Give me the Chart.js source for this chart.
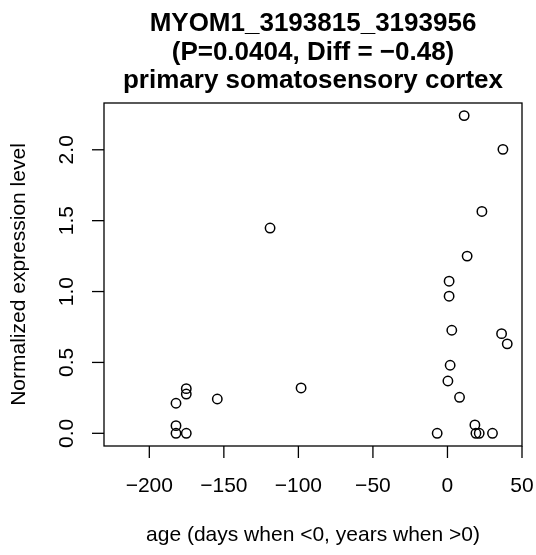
<!DOCTYPE html>
<html>
<head>
<meta charset="utf-8">
<script src="https://cdn.jsdelivr.net/npm/chart.js@4/dist/chart.umd.min.js"></script>
<style>
  html, body { margin: 0; padding: 0; background: #fff; }
  #wrap { position: relative; width: 536px; height: 555px; }
</style>
</head>
<body>
<div id="wrap"><canvas id="chart" width="536" height="555"></canvas></div>
<script>
// age (days when <0, years when >0) and normalized expression
const ages = [
  -119.0, -175.2, -175.2, -182.1, -154.4, -98.2, -182.1, -182.1, -175.2,
  11.2, 37.2, 23.1, 13.2, 1.1, 1.1, 2.9, 36.3, 40.1, 1.8, 0.3, 8.1,
  18.4, 19.1, 21.3, 30.2, -6.9
];
const expression = [
  1.448, 0.315, 0.277, 0.212, 0.242, 0.320, 0.054, 0.0, 0.0,
  2.241, 2.003, 1.565, 1.250, 1.073, 0.967, 0.727, 0.703, 0.631, 0.480, 0.369, 0.254,
  0.059, 0.0, 0.0, 0.0, 0.0
];
const xTicks = [-200, -150, -100, -50, 0, 50];
const xTickLabels = ['\u2212200', '\u2212150', '\u2212100', '\u221250', '0', '50'];
const yTicks = [0, 0.5, 1, 1.5, 2];
const yTickLabels = ['0.0', '0.5', '1.0', '1.5', '2.0'];
const titleLines = [
  'MYOM1_3193815_3193956',
  '(P=0.0404, Diff = \u22120.48)',
  'primary somatosensory cortex'
];
const xTitle = 'age (days when <0, years when >0)';
const yTitle = 'Normalized expression level';

const FONT = '"Liberation Sans", Arial, Helvetica, sans-serif';

// draws R-style box, ticks, labels and titles using the chart's scales
const baseGraphics = {
  id: 'baseGraphics',
  afterDraw(chart) {
    const ctx = chart.ctx;
    const area = chart.chartArea;
    const xs = chart.scales.x;
    const ys = chart.scales.y;
    const tick = 12;
    ctx.save();
    ctx.strokeStyle = '#000';
    ctx.fillStyle = '#000';
    ctx.lineWidth = 1.3;

    ctx.strokeRect(area.left, area.top, area.right - area.left, area.bottom - area.top);

    // x axis
    ctx.font = '21px ' + FONT;
    ctx.textAlign = 'center';
    ctx.textBaseline = 'alphabetic';
    xTicks.forEach((v, i) => {
      const px = xs.getPixelForValue(v);
      ctx.beginPath();
      ctx.moveTo(px, area.bottom);
      ctx.lineTo(px, area.bottom + tick);
      ctx.stroke();
      ctx.fillText(xTickLabels[i], px, 492);
    });

    // y axis, labels rotated like R's las=0
    yTicks.forEach((v, i) => {
      const py = ys.getPixelForValue(v);
      ctx.beginPath();
      ctx.moveTo(area.left, py);
      ctx.lineTo(area.left - tick, py);
      ctx.stroke();
      ctx.save();
      ctx.translate(73, py);
      ctx.rotate(-Math.PI / 2);
      ctx.fillText(yTickLabels[i], 0, 0);
      ctx.restore();
    });

    ctx.fillText(xTitle, (area.left + area.right) / 2, 541);
    ctx.save();
    ctx.translate(25, (area.top + area.bottom) / 2);
    ctx.rotate(-Math.PI / 2);
    ctx.fillText(yTitle, 0, 0);
    ctx.restore();

    ctx.font = 'bold 26px ' + FONT;
    titleLines.forEach((t, i) => {
      ctx.fillText(t, (area.left + area.right) / 2, 31 + i * 28.5);
    });
    ctx.restore();
  }
};

new Chart(document.getElementById('chart'), {
  type: 'scatter',
  data: {
    datasets: [{
      data: ages.map((a, i) => ({ x: a, y: expression[i] })),
      pointStyle: 'circle',
      pointRadius: 4.7,
      pointHoverRadius: 4.7,
      borderColor: '#000',
      backgroundColor: 'rgba(0,0,0,0)',
      borderWidth: 1.5
    }]
  },
  options: {
    responsive: false,
    animation: false,
    devicePixelRatio: 1,
    layout: { padding: { left: 104, right: 14, top: 103, bottom: 109 } },
    plugins: {
      legend: { display: false },
      tooltip: { enabled: false },
      title: { display: false }
    },
    scales: {
      x: { type: 'linear', min: -230.4, max: 50, display: false },
      y: { type: 'linear', min: -0.0895, max: 2.33, display: false }
    }
  },
  plugins: [baseGraphics]
});
</script>
</body>
</html>
